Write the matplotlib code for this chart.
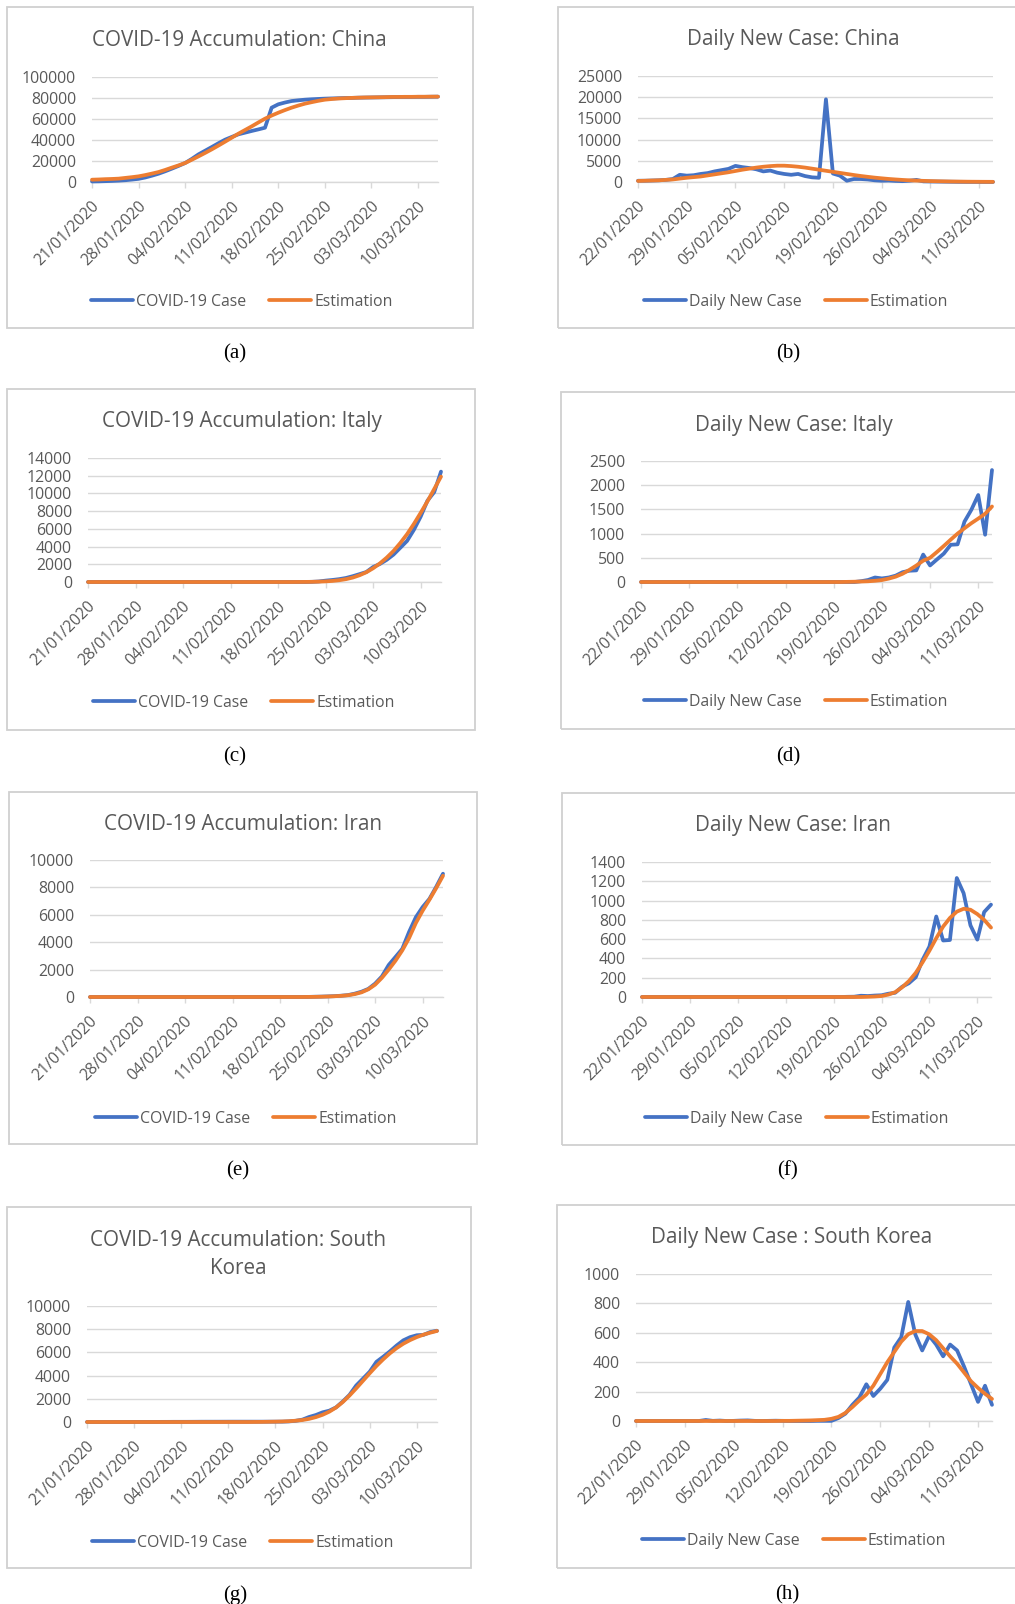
import matplotlib
matplotlib.use("Agg")
import matplotlib.pyplot as plt
import numpy as np
from matplotlib.patches import Rectangle
from matplotlib.transforms import ScaledTranslation

# ---------------- data ----------------
acc_labels = ['21/01/2020', '28/01/2020', '04/02/2020', '11/02/2020',
              '18/02/2020', '25/02/2020', '03/03/2020', '10/03/2020']
daily_labels = ['22/01/2020', '29/01/2020', '05/02/2020', '12/02/2020',
                '19/02/2020', '26/02/2020', '04/03/2020', '11/03/2020']

china_acc_case = [500, 600, 800, 1000, 1300, 1700, 2300, 3000, 4300, 6000,
                  7900, 10200, 12700, 15300, 18100, 22000, 26300, 29800, 33300, 36900,
                  40300, 42900, 45400, 47000, 48600, 50100, 51700, 70800, 74000, 75700,
                  77100, 77800, 78400, 78800, 79100, 79400, 79600, 79800, 80000, 80100,
                  80300, 80400, 80500, 80600, 80700, 80800, 80900, 81000, 81000, 81100,
                  81100, 81200, 81300]
china_acc_est = [2200, 2400, 2700, 2900, 3200, 3900, 4600, 5400, 6600, 8000,
                 9500, 11500, 13700, 15800, 18100, 21200, 24400, 27700, 31100, 34700,
                 38400, 42200, 46000, 49500, 53000, 56700, 60300, 63300, 66000, 68500,
                 70800, 72800, 74600, 76000, 77300, 78400, 79000, 79500, 79800, 80100,
                 80300, 80500, 80600, 80700, 80800, 81000, 81000, 81100, 81100, 81200,
                 81200, 81300, 81300]
china_daily_case = [300, 300, 350, 400, 500, 700, 1700, 1500, 1600, 1900,
                    2100, 2500, 2800, 3100, 3800, 3500, 3300, 3000, 2500, 2700,
                    2200, 1900, 1700, 1900, 1400, 1100, 1000, 19500, 2000, 1500,
                    300, 700, 700, 600, 400, 300, 350, 250, 200, 300,
                    500, 150, 120, 100, 80, 60, 40, 30, 25, 20,
                    15, 10]
china_daily_est = [250, 300, 350, 400, 500, 600, 800, 1000, 1150, 1300,
                   1550, 1800, 2050, 2300, 2600, 2900, 3150, 3400, 3600, 3750,
                   3850, 3850, 3750, 3600, 3400, 3150, 2900, 2650, 2400, 2150,
                   1900, 1650, 1420, 1220, 1030, 870, 720, 600, 490, 400,
                   330, 270, 220, 180, 150, 120, 100, 80, 65, 55,
                   45, 40]

italy_acc_case = [0, 0, 0, 0, 0, 0, 0, 0, 0, 0,
                  0, 2, 2, 2, 2, 2, 2, 3, 3, 3,
                  3, 3, 3, 3, 3, 3, 3, 3, 3, 3,
                  3, 3, 3, 20, 62, 155, 229, 322, 453, 655,
                  888, 1128, 1694, 2036, 2502, 3089, 3858, 4636, 5883, 7375,
                  9172, 10149, 12462]
italy_acc_est = [0, 0, 0, 0, 0, 0, 0, 0, 0, 0,
                 0, 0, 0, 0, 0, 0, 0, 0, 0, 0,
                 0, 0, 0, 0, 0, 0, 0, 0, 0, 0,
                 0, 5, 10, 20, 40, 70, 120, 200, 320, 500,
                 760, 1100, 1550, 2100, 2750, 3500, 4400, 5400, 6550, 7800,
                 9100, 10500, 11900]
italy_daily_case = [0, 0, 0, 0, 0, 0, 0, 0, 0, 0,
                    2, 0, 0, 0, 0, 0, 1, 0, 0, 0,
                    0, 0, 0, 0, 0, 0, 0, 0, 0, 0,
                    0, 0, 17, 42, 93, 74, 93, 131, 202, 233,
                    240, 566, 342, 466, 587, 769, 778, 1247, 1492, 1797,
                    977, 2313]
italy_daily_est = [0, 0, 0, 0, 0, 0, 0, 0, 0, 0,
                   0, 0, 0, 0, 0, 0, 0, 0, 0, 0,
                   0, 0, 0, 0, 0, 0, 0, 0, 0, 0,
                   3, 6, 10, 15, 25, 40, 70, 110, 170, 250,
                   340, 440, 500, 620, 745, 875, 1000, 1110, 1215, 1310,
                   1410, 1560]

iran_acc_case = [0, 0, 0, 0, 0, 0, 0, 0, 0, 0,
                 0, 0, 0, 0, 0, 0, 0, 0, 0, 0,
                 0, 0, 0, 0, 0, 0, 0, 0, 0, 0,
                 0, 2, 5, 18, 28, 43, 61, 95, 139, 245,
                 388, 593, 978, 1501, 2336, 2922, 3513, 4747, 5823, 6566,
                 7161, 8042, 9000]
iran_acc_est = [0, 0, 0, 0, 0, 0, 0, 0, 0, 0,
                0, 0, 0, 0, 0, 0, 0, 0, 0, 0,
                0, 0, 0, 0, 0, 0, 0, 0, 0, 0,
                0, 0, 5, 10, 20, 35, 55, 85, 130, 210,
                340, 560, 900, 1400, 2000, 2650, 3400, 4300, 5400, 6300,
                7100, 7950, 8850]
iran_daily_case = [0, 0, 0, 0, 0, 0, 0, 0, 0, 0,
                   0, 0, 0, 0, 0, 0, 0, 0, 0, 0,
                   0, 0, 0, 0, 0, 0, 0, 0, 0, 0,
                   2, 3, 13, 10, 15, 18, 34, 44, 106, 143,
                   205, 385, 523, 835, 586, 591, 1234, 1076, 743, 595,
                   881, 958]
iran_daily_est = [0, 0, 0, 0, 0, 0, 0, 0, 0, 0,
                  0, 0, 0, 0, 0, 0, 0, 0, 0, 0,
                  0, 0, 0, 0, 0, 0, 0, 0, 0, 0,
                  0, 0, 0, 2, 5, 10, 25, 50, 100, 165,
                  250, 360, 480, 610, 730, 820, 885, 915, 905, 860,
                  800, 720]

korea_acc_case = [1, 1, 1, 1, 2, 2, 3, 4, 4, 4,
                  4, 11, 12, 15, 15, 16, 19, 23, 24, 24,
                  25, 27, 28, 28, 28, 28, 28, 29, 30, 31,
                  51, 104, 204, 433, 602, 833, 977, 1261, 1766, 2337,
                  3150, 3736, 4335, 5186, 5621, 6088, 6593, 7041, 7314, 7478,
                  7513, 7755, 7869]
korea_acc_est = [0, 0, 0, 0, 0, 0, 0, 0, 0, 0,
                 0, 0, 0, 0, 0, 0, 0, 0, 0, 0,
                 0, 0, 0, 0, 0, 5, 10, 20, 30, 45,
                 70, 110, 170, 270, 420, 620, 890, 1250, 1720, 2280,
                 2900, 3550, 4200, 4830, 5400, 5920, 6370, 6750, 7060, 7320,
                 7530, 7700, 7850]
korea_daily_case = [0, 0, 0, 0, 0, 0, 0, 0, 0, 0,
                    7, 1, 3, 0, 1, 3, 4, 1, 0, 1,
                    2, 1, 0, 0, 0, 0, 1, 1, 1, 20,
                    50, 110, 160, 250, 170, 220, 280, 500, 570, 810,
                    590, 480, 580, 520, 440, 520, 480, 370, 250, 130,
                    240, 110]
korea_daily_est = [0, 0, 0, 0, 0, 0, 0, 0, 0, 0,
                   0, 0, 0, 0, 0, 0, 0, 0, 0, 0,
                   0, 1, 1, 2, 3, 4, 6, 8, 15, 28,
                   55, 95, 140, 180, 240, 320, 400, 470, 540, 590,
                   612, 612, 590, 550, 495, 440, 390, 330, 270, 225,
                   185, 150]

# ---------------- styling / layout ----------------
W, H = 1015, 1604
BLUE = '#4472C4'
ORANGE = '#ED7D31'
GREY_TXT = '#595959'
GRID = '#D9D9D9'
FONT = ['Open Sans', 'DejaVu Sans']
plt.rcParams['font.family'] = FONT

fig = plt.figure(figsize=(W / 100, H / 100), dpi=100)
fig.patch.set_facecolor('white')


def fx(x):
    return x / W


def fy(y):
    return 1 - y / H


panels = [
    dict(box=(7, 7, 473, 328), area=(92, 77, 438, 182), title=['COVID-19 Accumulation: China'],
         ttl=(239, 40), leg=(242, 302), cap='(a)', capxy=(235, 354),
         case=china_acc_case, est=china_acc_est, ymax=100000, ystep=20000,
         labels=acc_labels, name1='COVID-19 Case'),
    dict(box=(558, 7, 1020, 328), area=(638, 76, 993, 182), title=['Daily New Case: China'],
         ttl=(793, 40), leg=(796, 302), cap='(b)', capxy=(788, 354),
         case=china_daily_case, est=china_daily_est, ymax=25000, ystep=5000,
         labels=daily_labels, name1='Daily New Case'),
    dict(box=(7, 389, 475, 730), area=(88, 458, 441, 582), title=['COVID-19 Accumulation: Italy'],
         ttl=(242, 422), leg=(244, 703), cap='(c)', capxy=(235, 757),
         case=italy_acc_case, est=italy_acc_est, ymax=14000, ystep=2000,
         labels=acc_labels, name1='COVID-19 Case'),
    dict(box=(561, 392, 1020, 729), area=(641, 461, 992, 582), title=['Daily New Case: Italy'],
         ttl=(794, 425), leg=(796, 702), cap='(d)', capxy=(788, 757),
         case=italy_daily_case, est=italy_daily_est, ymax=2500, ystep=500,
         labels=daily_labels, name1='Daily New Case'),
    dict(box=(9, 792, 477, 1144), area=(90, 860, 443, 997), title=['COVID-19 Accumulation: Iran'],
         ttl=(243, 824), leg=(246, 1119), cap='(e)', capxy=(238, 1171),
         case=iran_acc_case, est=iran_acc_est, ymax=10000, ystep=2000,
         labels=acc_labels, name1='COVID-19 Case'),
    dict(box=(562, 793, 1020, 1145), area=(642, 862, 991, 997), title=['Daily New Case: Iran'],
         ttl=(793, 826), leg=(797, 1119), cap='(f)', capxy=(788, 1171),
         case=iran_daily_case, est=iran_daily_est, ymax=1400, ystep=200,
         labels=daily_labels, name1='Daily New Case'),
    dict(box=(7, 1207, 471, 1568), area=(87, 1306, 437, 1422),
         title=['COVID-19 Accumulation: South', 'Korea'],
         ttl=(238, 1240), leg=(243, 1543), cap='(g)', capxy=(235, 1595),
         case=korea_acc_case, est=korea_acc_est, ymax=10000, ystep=2000,
         labels=acc_labels, name1='COVID-19 Case'),
    dict(box=(557, 1205, 1020, 1568), area=(636, 1274, 992, 1421),
         title=['Daily New Case : South Korea'],
         ttl=(792, 1238), leg=(794, 1541), cap='(h)', capxy=(787, 1595),
         case=korea_daily_case, est=korea_daily_est, ymax=1000, ystep=200,
         labels=daily_labels, name1='Daily New Case'),
]

for p in panels:
    bx0, by0, bx1, by1 = p['box']
    fig.add_artist(Rectangle((fx(bx0), fy(by1)), (bx1 - bx0) / W, (by1 - by0) / H,
                             transform=fig.transFigure, fill=False,
                             edgecolor='#D0D0D0', lw=1.3, zorder=0))
    px0, py0, px1, py1 = p['area']
    ax = fig.add_axes([fx(px0), fy(py1), (px1 - px0) / W, (py1 - py0) / H])
    ax.set_facecolor('none')
    n = len(p['case'])
    x = np.arange(n)
    l1, = ax.plot(x, p['case'], color=BLUE, lw=2.7, solid_capstyle='round',
                  solid_joinstyle='round', clip_on=False, zorder=3)
    l2, = ax.plot(x, p['est'], color=ORANGE, lw=2.7, solid_capstyle='round',
                  solid_joinstyle='round', clip_on=False, zorder=4)
    ax.set_xlim(0, n - 1)
    ax.set_ylim(0, p['ymax'])
    ax.set_yticks(np.arange(0, p['ymax'] + 1, p['ystep']))
    ax.set_yticklabels(['%d' % v for v in np.arange(0, p['ymax'] + 1, p['ystep'])])
    ax.set_xticks(np.arange(0, 7 * len(p['labels']), 7))
    ax.set_xticklabels(p['labels'], rotation=45, ha='right', va='center',
                       rotation_mode='anchor')
    ax.yaxis.grid(True, color=GRID, lw=1.0)
    ax.set_axisbelow(True)
    for s in ['top', 'right', 'left']:
        ax.spines[s].set_visible(False)
    ax.spines['bottom'].set_color(GRID)
    ax.spines['bottom'].set_linewidth(1.0)
    ax.tick_params(axis='y', length=0, pad=11.5, labelsize=11.4, labelcolor=GREY_TXT)
    ax.tick_params(axis='x', length=4.3, width=1.0, color=GRID, pad=11.5,
                   labelsize=11.4, labelcolor=GREY_TXT)
    off = ScaledTranslation(5 / 100, 0, fig.dpi_scale_trans)
    for lab in ax.get_xticklabels():
        lab.set_transform(lab.get_transform() + off)

    # title
    tx, ty = p['ttl']
    for i, t in enumerate(p['title']):
        fig.text(fx(tx), fy(ty + 29 * i), t, ha='center', va='center',
                 fontsize=14.9, color=GREY_TXT)

    # legend
    lx, ly = p['leg']
    ax.legend([l1, l2], [p['name1'], 'Estimation'], loc='center',
              bbox_to_anchor=(fx(lx), fy(ly)), bbox_transform=fig.transFigure,
              ncol=2, frameon=False, handlelength=2.65, handletextpad=0.2,
              columnspacing=1.45, fontsize=11.4, labelcolor=GREY_TXT,
              borderaxespad=0, borderpad=0)

    cx, cy = p['capxy']
    fig.text(fx(cx), fy(cy), p['cap'], ha='center', va='center', fontsize=15,
             family=['Liberation Serif', 'DejaVu Serif'], color='black')

fig.savefig('out.png', dpi=100, facecolor='white')
